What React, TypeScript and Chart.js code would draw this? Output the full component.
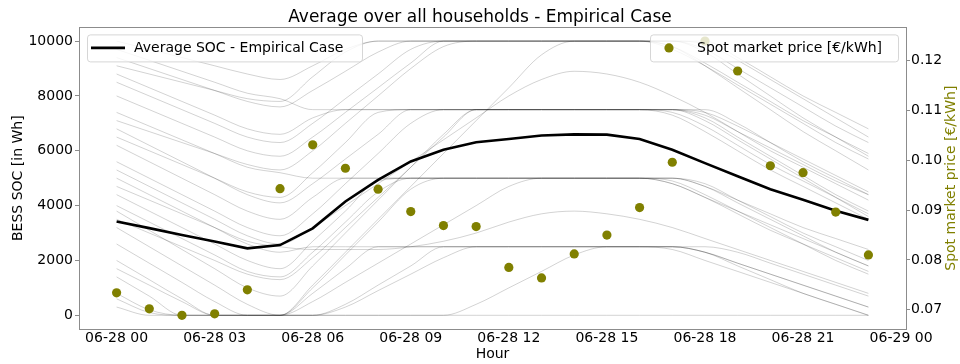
import { useEffect, useRef } from 'react';
import { Chart, registerables } from 'chart.js';

Chart.register(...registerables);

// ---------- data ----------
const hours = [0, 1, 2, 3, 4, 5, 6, 7, 8, 9, 10, 11, 12, 13, 14, 15, 16, 17, 18, 19, 20, 21, 22, 23];

const avgSoc = [3420, 3180, 2930, 2690, 2440, 2560, 3170, 4150, 4940, 5610, 6040, 6310, 6430, 6560, 6600, 6590, 6430, 6040, 5550, 5070, 4600, 4210, 3810, 3480];

const spotPrice = [0.0734, 0.0702, 0.0689, 0.0692, 0.0740, 0.0943, 0.1031, 0.0984, 0.0942, 0.0897, 0.0869, 0.0867, 0.0785, 0.0764, 0.0812, 0.0850, 0.0905, 0.0996, 0.1239, 0.1179, 0.0989, 0.0975, 0.0896, 0.0810];

const xTickHours = [0, 3, 6, 9, 12, 15, 18, 21, 24];
const xTickLabels = ['06-28 00', '06-28 03', '06-28 06', '06-28 09', '06-28 12', '06-28 15', '06-28 18', '06-28 21', '06-29 00'];
const socTicks = [0, 2000, 4000, 6000, 8000, 10000];
const priceTicks = [0.07, 0.08, 0.09, 0.1, 0.11, 0.12];

// representative individual household SOC curves (Wh)
const hh01 = [10000, 9700, 9400, 9100, 8800, 8600, 9100, 9700, 10000, 10000, 10000, 10000, 10000, 10000, 10000, 10000, 10000, 10000, 10000, 9400, 8700, 8000, 7400, 6800];
const hh02 = [9400, 9000, 8600, 8200, 7800, 7600, 8200, 8900, 9600, 10000, 10000, 10000, 10000, 10000, 10000, 10000, 10000, 10000, 9700, 9000, 8300, 7600, 6900, 6300];
const hh03 = [8800, 8300, 7800, 7300, 6800, 6600, 7200, 7500, 7500, 7500, 7500, 7500, 7500, 7500, 7500, 7500, 7500, 7500, 7300, 6700, 6100, 5500, 4900, 4400];
const hh04 = [8000, 7500, 7000, 6500, 6000, 5800, 6500, 7400, 8300, 9200, 10000, 10000, 10000, 10000, 10000, 10000, 10000, 9800, 9200, 8500, 7800, 7100, 6500, 5900];
const hh05 = [7400, 6900, 6400, 5900, 5400, 5200, 5000, 5000, 5000, 5000, 5000, 5000, 5000, 5000, 5000, 5000, 5000, 5000, 4700, 4200, 3700, 3200, 2800, 2400];
const hh06 = [6800, 6200, 5600, 5000, 4400, 4100, 4800, 5700, 6600, 7500, 7500, 7500, 7500, 7500, 7500, 7500, 7500, 7500, 7500, 7000, 6300, 5600, 5000, 4400];
const hh07 = [6200, 5600, 5000, 4400, 3800, 3500, 4300, 5000, 5000, 5000, 5000, 5000, 5000, 5000, 5000, 5000, 5000, 4800, 4300, 3700, 3100, 2600, 2100, 1600];
const hh08 = [5600, 5000, 4400, 3800, 3200, 2900, 3700, 4800, 5900, 7000, 7500, 7500, 7500, 7500, 7500, 7500, 7500, 7400, 6900, 6200, 5500, 4900, 4300, 3700];
const hh09 = [5000, 4400, 3800, 3200, 2600, 2300, 2500, 2500, 2500, 2500, 2500, 2500, 2500, 2500, 2500, 2500, 2500, 2500, 2300, 1900, 1500, 1100, 700, 300];
const hh10 = [4400, 3800, 3200, 2600, 2000, 1700, 2700, 3800, 4900, 5000, 5000, 5000, 5000, 5000, 5000, 5000, 5000, 5000, 4800, 4200, 3600, 3000, 2500, 2000];
const hh11 = [3800, 3100, 2400, 1700, 1000, 700, 1800, 3000, 4200, 5400, 6600, 7500, 7500, 7500, 7500, 7500, 7500, 7300, 6700, 6000, 5300, 4700, 4100, 3500];
const hh12 = [3200, 2500, 1800, 1100, 400, 0, 1100, 2300, 3500, 4700, 5900, 7100, 8300, 9500, 10000, 10000, 10000, 9800, 9100, 8300, 7500, 6700, 6000, 5300];
const hh13 = [2600, 1900, 1200, 500, 0, 0, 800, 1700, 2500, 2500, 2500, 2500, 2500, 2500, 2500, 2500, 2500, 2400, 2000, 1600, 1200, 800, 400, 0];
const hh14 = [2000, 1300, 600, 0, 0, 0, 1000, 2200, 3400, 4600, 5000, 5000, 5000, 5000, 5000, 5000, 5000, 5000, 4700, 4100, 3500, 2900, 2300, 1800];
const hh15 = [1400, 700, 0, 0, 0, 0, 500, 1200, 1900, 2600, 3300, 4000, 4700, 5000, 5000, 5000, 5000, 4800, 4300, 3800, 3300, 2800, 2300, 1800];
const hh16 = [800, 200, 0, 0, 0, 0, 0, 0, 0, 0, 0, 400, 1000, 1600, 2200, 2500, 2500, 2500, 2300, 1900, 1500, 1100, 700, 300];
const hh17 = [300, 0, 0, 0, 0, 0, 0, 0, 0, 0, 0, 0, 0, 0, 0, 0, 0, 0, 0, 0, 0, 0, 0, 0];
const hh18 = [9700, 9300, 8900, 8500, 8100, 7900, 7500, 7500, 7500, 7500, 7500, 7500, 7500, 7500, 7500, 7500, 7500, 7500, 7400, 6900, 6300, 5700, 5100, 4500];
const hh19 = [8500, 8000, 7500, 7000, 6500, 6300, 7000, 7900, 8800, 9700, 10000, 10000, 10000, 10000, 10000, 10000, 10000, 10000, 9900, 9300, 8600, 7900, 7200, 6500];
const hh20 = [5300, 4700, 4100, 3500, 2900, 2600, 3200, 4000, 4800, 5600, 6400, 7200, 8000, 8600, 8900, 8800, 8500, 8000, 7400, 6700, 6000, 5400, 4800, 4200];
const hh21 = [4700, 4200, 3700, 3200, 2700, 2500, 2400, 2400, 2400, 2500, 2700, 3000, 3400, 3700, 3800, 3700, 3500, 3200, 2800, 2400, 2000, 1600, 1200, 800];
const hh22 = [3500, 3000, 2500, 2000, 1500, 1300, 2100, 3200, 4300, 5400, 6500, 7500, 7500, 7500, 7500, 7500, 7500, 7500, 7200, 6500, 5800, 5100, 4400, 3800];
const hh23 = [7100, 6700, 6300, 5900, 5500, 5300, 6000, 7000, 8000, 9000, 9800, 10000, 10000, 10000, 10000, 10000, 10000, 9700, 9100, 8400, 7700, 7000, 6300, 5700];
const hh24 = [1700, 1100, 500, 0, 0, 0, 0, 400, 1100, 1800, 2500, 2500, 2500, 2500, 2500, 2500, 2500, 2500, 2500, 2300, 1900, 1500, 1100, 700];
const hh25 = [9100, 8800, 8500, 8200, 7900, 7800, 8700, 9600, 10000, 10000, 10000, 10000, 10000, 10000, 10000, 10000, 10000, 10000, 9600, 8800, 8000, 7200, 6500, 5800];
const hh26 = [6500, 6000, 5500, 5000, 4500, 4300, 5200, 6300, 7400, 7500, 7500, 7500, 7500, 7500, 7500, 7500, 7500, 7500, 7100, 6400, 5700, 5000, 4300, 3600];
const hh27 = [4000, 3400, 2800, 2200, 1600, 1400, 2300, 3400, 4500, 5000, 5000, 5000, 5000, 5000, 5000, 5000, 5000, 4900, 4400, 3800, 3200, 2600, 2000, 1500];
const hh28 = [600, 100, 0, 0, 0, 0, 0, 300, 900, 1500, 2100, 2500, 2500, 2500, 2500, 2500, 2500, 2500, 2300, 1800, 1300, 800, 400, 0];

const households = [hh01, hh02, hh03, hh04, hh05, hh06, hh07, hh08, hh09, hh10, hh11, hh12, hh13, hh14, hh15, hh16, hh17, hh18, hh19, hh20, hh21, hh22, hh23, hh24, hh25, hh26, hh27, hh28];

const OLIVE = '#808000';
const SPINE = '#8c8c8c';
const FONT = '"DejaVu Sans", sans-serif';

const overlayPlugin = {
  id: 'overlayPlugin',
  afterDraw(chart: any) {
    const ctx = chart.ctx as CanvasRenderingContext2D;
    const a = chart.chartArea;
    ctx.save();
    // full frame (spines)
    ctx.strokeStyle = SPINE;
    ctx.lineWidth = 1;
    ctx.strokeRect(Math.round(a.left) + 0.5, Math.round(a.top) + 0.5, Math.round(a.right - a.left), Math.round(a.bottom - a.top));

    ctx.font = `14px ${FONT}`;
    ctx.textBaseline = 'middle';

    // legend 1 (left)
    const l1x = a.left + 8, l1y = a.top + 7, l1w = 275, l1h = 27;
    ctx.beginPath();
    (ctx as any).roundRect(l1x + 0.5, l1y + 0.5, l1w, l1h, 3);
    ctx.fillStyle = 'rgba(255,255,255,0.8)';
    ctx.fill();
    ctx.strokeStyle = 'rgba(204,204,204,0.8)';
    ctx.stroke();
    ctx.beginPath();
    ctx.moveTo(l1x + 4, l1y + 13.5);
    ctx.lineTo(l1x + 38, l1y + 13.5);
    ctx.strokeStyle = '#000';
    ctx.lineWidth = 2.6;
    ctx.stroke();
    ctx.fillStyle = '#000';
    ctx.textAlign = 'left';
    ctx.fillText('Average SOC - Empirical Case', l1x + 47, l1y + 14);

    // legend 2 (right)
    const l2w = 248, l2h = 27;
    const l2x = a.right - 8 - l2w, l2y = a.top + 7;
    ctx.beginPath();
    (ctx as any).roundRect(l2x + 0.5, l2y + 0.5, l2w, l2h, 3);
    ctx.fillStyle = 'rgba(255,255,255,0.8)';
    ctx.fill();
    ctx.strokeStyle = 'rgba(204,204,204,0.8)';
    ctx.lineWidth = 1;
    ctx.stroke();
    ctx.beginPath();
    ctx.arc(l2x + 19, l2y + 13.5, 4.6, 0, Math.PI * 2);
    ctx.fillStyle = OLIVE;
    ctx.fill();
    ctx.fillStyle = '#000';
    ctx.fillText('Spot market price [€/kWh]', l2x + 47, l2y + 14);

    // right axis title (rotated bottom-to-top)
    ctx.save();
    ctx.translate(951, (a.top + a.bottom) / 2);
    ctx.rotate(-Math.PI / 2);
    ctx.textAlign = 'center';
    ctx.fillStyle = OLIVE;
    ctx.fillText('Spot market price [€/kWh]', 0, 0);
    ctx.restore();

    ctx.restore();
  },
};

export default function App() {
  const ref = useRef<HTMLCanvasElement | null>(null);

  useEffect(() => {
    document.body.style.margin = '0';
    const canvas = ref.current;
    if (!canvas) return;

    const householdSets = households.map((vals, k) => ({
      label: `Household ${k + 1}`,
      data: hours.map((h, i) => ({ x: h, y: vals[i] })),
      borderColor: 'rgba(0,0,0,0.2)',
      borderWidth: 0.9,
      pointRadius: 0,
      cubicInterpolationMode: 'monotone' as const,
      yAxisID: 'y',
      order: 2,
    }));

    const chart = new Chart(canvas, {
      type: 'line',
      data: {
        datasets: [
          {
            label: 'Spot market price [€/kWh]',
            data: hours.map((h, i) => ({ x: h, y: spotPrice[i] })),
            showLine: false,
            pointRadius: 4.6,
            pointBackgroundColor: OLIVE,
            pointBorderWidth: 0,
            borderColor: OLIVE,
            yAxisID: 'y2',
            order: 0,
          },
          {
            label: 'Average SOC - Empirical Case',
            data: hours.map((h, i) => ({ x: h, y: avgSoc[i] })),
            borderColor: '#000',
            borderWidth: 2.6,
            pointRadius: 0,
            tension: 0,
            yAxisID: 'y',
            order: 1,
          },
          ...householdSets,
        ],
      },
      options: {
        responsive: false,
        animation: false,
        devicePixelRatio: 1,
        layout: { padding: 0 },
        font: { family: FONT },
        plugins: {
          legend: { display: false },
          tooltip: { enabled: false },
          title: {
            display: true,
            text: 'Average over all households - Empirical Case',
            color: '#000',
            font: { family: FONT, size: 17, weight: 'normal' },
            padding: { top: 7, bottom: 0 },
          },
        },
        scales: {
          x: {
            type: 'linear',
            min: -1.15,
            max: 24.15,
            afterBuildTicks: (s: any) => {
              s.ticks = xTickHours.map((v) => ({ value: v }));
            },
            afterFit: (s: any) => {
              s.height = 35;
            },
            grid: { display: false, drawTicks: false, tickLength: 0 },
            border: { display: true, color: SPINE },
            ticks: {
              autoSkip: false,
              maxRotation: 0,
              padding: 1,
              color: '#000',
              font: { family: FONT, size: 14 },
              callback: (v: any) => {
                const idx = xTickHours.indexOf(Number(v));
                return idx >= 0 ? xTickLabels[idx] : '';
              },
            },
            title: {
              display: true,
              text: 'Hour',
              color: '#000',
              font: { family: FONT, size: 14 },
              padding: { top: 0, bottom: 1 },
            },
          },
          y: {
            type: 'linear',
            position: 'left',
            min: -500,
            max: 10500,
            afterBuildTicks: (s: any) => {
              s.ticks = socTicks.map((v) => ({ value: v }));
            },
            afterFit: (s: any) => {
              s.width = 79;
            },
            grid: { drawOnChartArea: false, drawTicks: true, tickLength: 4, color: SPINE },
            border: { display: true, color: SPINE },
            ticks: {
              padding: 2,
              color: '#000',
              font: { family: FONT, size: 14 },
              callback: (v: any) => String(v),
            },
            title: {
              display: true,
              text: 'BESS SOC [in Wh]',
              color: '#000',
              font: { family: FONT, size: 14 },
              padding: { top: 10, bottom: 0 },
            },
          },
          y2: {
            type: 'linear',
            position: 'right',
            min: 0.06615,
            max: 0.12665,
            afterBuildTicks: (s: any) => {
              s.ticks = priceTicks.map((v) => ({ value: v }));
            },
            afterFit: (s: any) => {
              s.width = 54;
            },
            grid: { drawOnChartArea: false, drawTicks: true, tickLength: 4, color: SPINE },
            border: { display: true, color: SPINE },
            ticks: {
              padding: 1,
              color: '#000',
              font: { family: FONT, size: 14 },
              callback: (v: any) => Number(v).toFixed(2),
            },
          },
        },
      },
      plugins: [overlayPlugin],
    } as any);

    return () => chart.destroy();
  }, []);

  return (
    <div style={{ width: 960, height: 364, background: '#fff' }}>
      <canvas ref={ref} width={960} height={364} style={{ display: 'block', width: 960, height: 364 }} />
    </div>
  );
}
